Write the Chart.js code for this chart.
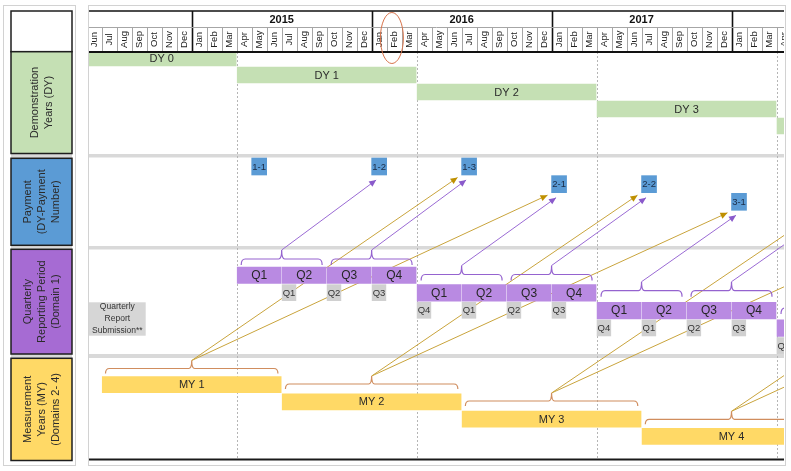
<!DOCTYPE html>
<html lang="en">
<head>
<meta charset="utf-8">
<title>DY / payment / reporting timeline</title>
<script src="https://cdn.jsdelivr.net/npm/chart.js@4.4.1/dist/chart.umd.min.js"></script>
<style>
  html, body { margin: 0; padding: 0; background: #ffffff; }
  canvas { display: block; }
</style>
</head>
<body>
<canvas id="timelineChart" width="791" height="471"></canvas>
<script>
// x values are months counted from Jan 2015 (0 = start of Jan 2015)
const monthNames = ["Jan", "Feb", "Mar", "Apr", "May", "Jun", "Jul", "Aug", "Sep", "Oct", "Nov", "Dec"];
const yearLabels = [2015, 2016, 2017];
const axisStart = -6.85;   // part of Jun 2014
const axisEnd = 39.5;      // part of Apr 2018
const highlightMonth = 13.35; // circled Feb 2016

const dyLabels = ["DY 0", "DY 1", "DY 2", "DY 3", "DY 4"];
const dyStart = [-7, 3, 15, 27, 39];
const dyEnd = [3, 15, 27, 39, 51];

const quarterLabels = ["Q1", "Q2", "Q3", "Q4"];
const reportLabels = ["Q4", "Q1", "Q2", "Q3"]; // report handed in during each quarter

const paymentLabels = ["1-1", "1-2", "1-3", "2-1", "2-2", "3-1", "3-2", "4-1", "4-2", "5-1"];
const paymentMonth = [4.5, 12.5, 18.5, 24.5, 30.5, 36.5, 42.5, 48.5, 54.5, 60.5];

const myLabels = ["MY 1", "MY 2", "MY 3", "MY 4"];
const myStart = [-6, 6, 18, 30];
const myEnd = [6, 18, 30, 42];

// payment fed by each half year of quarters (DY1 H1, DY1 H2, DY2 H1, ...)
const halfYearPays = ["1-2", "1-3", "2-1", "2-2", "3-1", "3-2", "4-1", "4-2"];
// payments fed by each measurement year
const myPays = [["1-3", "2-1"], ["2-2", "3-1"], ["3-2", "4-1"], ["4-2", "5-1"]];

const rowTitles = [
  [],
  ["Demonstration", "Years (DY)"],
  ["Payment", "(DY-Payment", "Number)"],
  ["Quarterly", "Reporting Period", "(Domain 1)"],
  ["Measurement", "Years (MY)", "(Domains 2- 4)"]
];
const noteLines = ["Quarterly", "Report", "Submission**"];

// ---- layout (pixels, y axis is 1:1 with the canvas) ----
const FONT = '"Liberation Sans", Arial, sans-serif';
const LAYOUT = {
  headTop: 11, monthTop: 27, headBottom: 52,
  dyTop: 50, dyStep: 17, dyH: 16,
  payTop: 158, payStep: 17.65, payH: 17,
  qTop: 267, qStep: 17.65, qH: 16.5, repH: 16,
  qBraceY: [259, 274.5, 290.7, 308],
  myTop: 376.7, myStep: 17.2, myH: 16,
  myBraceY: [368.5, 384, 401, 419.3],
  bands: [[154, 157.5], [246, 249.5], [354, 358]],
  bottomLine: 459.6,
  frameTop: 5.5, frameBottom: 465.5,
  panelX0: 11, panelX1: 72,
  note: { x0: 89, x1: 145.7, y0: 302.3, y1: 335.7 }
};
const panelBoxes = [
  { y0: 11, y1: 51.7, fill: "#ffffff" },
  { y0: 51.7, y1: 153.5, fill: "#c5e0b4" },
  { y0: 158.3, y1: 245.3, fill: "#5b9bd5" },
  { y0: 249.3, y1: 354, fill: "#a66bd3" },
  { y0: 358.3, y1: 460.5, fill: "#ffd966" }
];
const GAP = 0.035;

// ---- bars ----
const dyData = dyLabels.map((_, i) => ({
  x: [dyStart[i] + GAP, dyEnd[i] - GAP],
  y: LAYOUT.dyTop + i * LAYOUT.dyStep + LAYOUT.dyH / 2
}));

const qData = [], qText = [], repData = [], repText = [];
for (let k = 1; k < dyLabels.length; k++) {
  const row = k - 1;
  quarterLabels.forEach((lab, q) => {
    const s = dyStart[k] + 3 * q;
    qData.push({ x: [s + GAP, s + 3 - GAP], y: LAYOUT.qTop + row * LAYOUT.qStep + LAYOUT.qH / 2 });
    qText.push(lab);
    if (k === 1 && q === 0) return; // no earlier quarter to report
    repData.push({ x: [s + 0.03, s + 0.95], y: LAYOUT.qTop + (row + 1) * LAYOUT.qStep + LAYOUT.repH / 2 });
    repText.push(reportLabels[q]);
  });
}

function payRow(label) { return parseInt(label, 10) - 1; }
const payData = paymentLabels.map((lab, i) => ({
  x: [paymentMonth[i] - 0.5, paymentMonth[i] + 0.5],
  y: LAYOUT.payTop + payRow(lab) * LAYOUT.payStep + LAYOUT.payH / 2
}));

const myData = myLabels.map((_, i) => ({
  x: [myStart[i] + GAP, myEnd[i] - GAP],
  y: LAYOUT.myTop + i * LAYOUT.myStep + LAYOUT.myH / 2
}));

// ---- brackets and arrows ----
const qBraces = [];
for (let k = 1; k < dyLabels.length; k++) {
  for (let h = 0; h < 2; h++) {
    const s = dyStart[k] + 6 * h;
    qBraces.push({ x0: s + 0.3, x1: s + 5.7, y: LAYOUT.qBraceY[k - 1], tick: 9 });
  }
}
const myBraces = myLabels.map((_, i) => ({
  x0: myStart[i] + 0.25, x1: myEnd[i] - 0.25, y: LAYOUT.myBraceY[i], tick: 8
}));

function tip(b) { return { x: (b.x0 + b.x1) / 2, y: b.y - b.tick }; }
function payAnchor(label, kind) {
  const i = paymentLabels.indexOf(label);
  const left = paymentMonth[i] - 0.5;
  const bottom = LAYOUT.payTop + payRow(label) * LAYOUT.payStep + LAYOUT.payH;
  return kind === "gold"
    ? { x: left - 0.27, y: bottom + 2.5 }
    : { x: left + 0.3, y: bottom + 5 };
}

function arrowSet(from, to, color, head) {
  return {
    type: "line", data: [from, to], borderColor: color, borderWidth: 1,
    pointRadius: 0, fill: false, tension: 0, order: 5, arrowColor: head
  };
}
const arrowSets = [];
halfYearPays.forEach((lab, b) => {
  arrowSets.push(arrowSet(tip(qBraces[b]), payAnchor(lab, "purple"), "#9a6ad4", "#8a5acb"));
});
myPays.forEach((pair, m) => {
  pair.forEach(lab => arrowSets.push(arrowSet(tip(myBraces[m]), payAnchor(lab, "gold"), "#c9a43c", "#bf9000")));
});

function barSet(data, texts, color, thickness, font, textColor) {
  return {
    type: "bar", indexAxis: "y", data, backgroundColor: color, barThickness: thickness,
    grouped: false, borderWidth: 0, order: 1, barText: texts, textFont: font, textColor
  };
}

function drawBrace(ctx, x0, x1, y, tick, drop) {
  const xc = (x0 + x1) / 2, r = 4;
  ctx.beginPath();
  ctx.moveTo(x0, y + drop);
  ctx.quadraticCurveTo(x0, y, x0 + r, y);
  ctx.lineTo(xc - 3, y);
  ctx.quadraticCurveTo(xc, y, xc, y - tick);
  ctx.quadraticCurveTo(xc, y, xc + 3, y);
  ctx.lineTo(x1 - r, y);
  ctx.quadraticCurveTo(x1, y, x1, y + drop);
  ctx.stroke();
}

const gridPlugin = {
  id: "grid",
  beforeDatasetsDraw(chart) {
    const { ctx, chartArea: a, scales: { x } } = chart;
    ctx.save();
    ctx.strokeStyle = "#d2d2d2";
    ctx.lineWidth = 1;
    ctx.strokeRect(88.5, LAYOUT.frameTop, 697, LAYOUT.frameBottom - LAYOUT.frameTop);
    ctx.strokeRect(3.5, LAYOUT.frameTop, 72, LAYOUT.frameBottom - LAYOUT.frameTop);

    ctx.fillStyle = "#d9d9d9";
    LAYOUT.bands.forEach(([y0, y1]) => ctx.fillRect(a.left, y0, a.right - a.left, y1 - y0));

    // dotted lines where each DY begins
    ctx.strokeStyle = "#b5b5b5";
    ctx.setLineDash([2, 2]);
    dyStart.forEach(m => {
      if (m <= axisStart || m >= axisEnd) return;
      const px = Math.round(x.getPixelForValue(m)) + 0.5;
      ctx.beginPath();
      ctx.moveTo(px, LAYOUT.headBottom);
      ctx.lineTo(px, LAYOUT.bottomLine);
      ctx.stroke();
    });
    ctx.setLineDash([]);

    ctx.strokeStyle = "#1a1a1a";
    ctx.lineWidth = 2;
    ctx.beginPath();
    ctx.moveTo(a.left, LAYOUT.bottomLine);
    ctx.lineTo(a.right, LAYOUT.bottomLine);
    ctx.stroke();
    ctx.restore();
  }
};

const overlayPlugin = {
  id: "overlay",
  afterDatasetsDraw(chart) {
    const { ctx, chartArea: a, scales: { x, y } } = chart;
    ctx.save();
    ctx.beginPath();
    ctx.rect(a.left, a.top, a.right - a.left, a.bottom - a.top);
    ctx.clip();

    // text inside bars
    ctx.textAlign = "center";
    ctx.textBaseline = "middle";
    chart.data.datasets.forEach((ds, di) => {
      if (!ds.barText) return;
      ctx.font = ds.textFont;
      ctx.fillStyle = ds.textColor;
      chart.getDatasetMeta(di).data.forEach((el, i) => {
        ctx.fillText(ds.barText[i], (el.x + el.base) / 2, el.y + 0.5);
      });
    });

    // brackets
    ctx.lineWidth = 1.2;
    ctx.strokeStyle = "#9563cf";
    qBraces.forEach(b => drawBrace(ctx, x.getPixelForValue(b.x0), x.getPixelForValue(b.x1), y.getPixelForValue(b.y), b.tick, 6));
    ctx.strokeStyle = "#d08d5e";
    myBraces.forEach(b => drawBrace(ctx, x.getPixelForValue(b.x0), x.getPixelForValue(b.x1), y.getPixelForValue(b.y), b.tick, 5));

    // arrow heads
    chart.data.datasets.forEach((ds, di) => {
      if (!ds.arrowColor) return;
      const pts = chart.getDatasetMeta(di).data;
      const p0 = pts[0], p1 = pts[1];
      const ang = Math.atan2(p1.y - p0.y, p1.x - p0.x);
      ctx.save();
      ctx.translate(p1.x, p1.y);
      ctx.rotate(ang);
      ctx.fillStyle = ds.arrowColor;
      ctx.beginPath();
      ctx.moveTo(0, 0);
      ctx.lineTo(-7, -3.2);
      ctx.lineTo(-7, 3.2);
      ctx.closePath();
      ctx.fill();
      ctx.restore();
    });
    ctx.restore();

    // note box
    const n = LAYOUT.note;
    ctx.save();
    ctx.fillStyle = "#d6d6d6";
    ctx.fillRect(n.x0, n.y0, n.x1 - n.x0, n.y1 - n.y0);
    ctx.fillStyle = "#333";
    ctx.font = "8.5px " + FONT;
    ctx.textAlign = "center";
    ctx.textBaseline = "middle";
    noteLines.forEach((t, j) => ctx.fillText(t, (n.x0 + n.x1) / 2, (n.y0 + n.y1) / 2 + (j - 1) * 12));
    ctx.restore();

    // header: years and months
    ctx.save();
    ctx.beginPath();
    ctx.rect(a.left, 0, a.right - a.left, LAYOUT.headBottom + 2);
    ctx.clip();
    ctx.fillStyle = "#ffffff";
    ctx.fillRect(a.left, LAYOUT.headTop, a.right - a.left, LAYOUT.headBottom - LAYOUT.headTop);
    ctx.textAlign = "center";
    ctx.textBaseline = "middle";
    ctx.font = "9.5px " + FONT;
    for (let m = Math.floor(axisStart); m < axisEnd; m++) {
      const x0 = x.getPixelForValue(m), x1 = x.getPixelForValue(m + 1);
      const xs = Math.round(x0) + 0.5;
      ctx.strokeStyle = "#a6a6a6";
      ctx.lineWidth = 1;
      ctx.beginPath();
      ctx.moveTo(xs, LAYOUT.monthTop);
      ctx.lineTo(xs, LAYOUT.headBottom);
      ctx.stroke();
      ctx.save();
      ctx.translate((x0 + x1) / 2, (LAYOUT.monthTop + LAYOUT.headBottom) / 2);
      ctx.rotate(-Math.PI / 2);
      ctx.fillStyle = "#222";
      ctx.fillText(monthNames[((m % 12) + 12) % 12], 0, 0.5);
      ctx.restore();
      if (((m % 12) + 12) % 12 === 0) {
        ctx.strokeStyle = "#111";
        ctx.lineWidth = 1.6;
        ctx.beginPath();
        ctx.moveTo(xs, LAYOUT.headTop);
        ctx.lineTo(xs, LAYOUT.headBottom);
        ctx.stroke();
      }
    }
    ctx.strokeStyle = "#a6a6a6";
    ctx.lineWidth = 1;
    ctx.beginPath();
    ctx.moveTo(a.left, LAYOUT.monthTop + 0.5);
    ctx.lineTo(a.right, LAYOUT.monthTop + 0.5);
    ctx.stroke();
    ctx.strokeStyle = "#111";
    ctx.lineWidth = 1.6;
    ctx.beginPath();
    ctx.moveTo(a.left, LAYOUT.headTop);
    ctx.lineTo(a.right, LAYOUT.headTop);
    ctx.stroke();
    ctx.lineWidth = 2;
    ctx.beginPath();
    ctx.moveTo(a.left, LAYOUT.headBottom);
    ctx.lineTo(a.right, LAYOUT.headBottom);
    ctx.stroke();
    ctx.font = "bold 11px " + FONT;
    ctx.fillStyle = "#111";
    yearLabels.forEach(yr => {
      ctx.fillText(String(yr), x.getPixelForValue(12 * (yr - 2015) + 6), (LAYOUT.headTop + LAYOUT.monthTop) / 2 + 0.5);
    });
    ctx.restore();

    // circled month
    ctx.save();
    ctx.strokeStyle = "#d7734b";
    ctx.lineWidth = 1;
    ctx.beginPath();
    ctx.ellipse(x.getPixelForValue(highlightMonth), 38, 11.5, 25.5, 0, 0, Math.PI * 2);
    ctx.stroke();
    ctx.restore();
  }
};

const panelPlugin = {
  id: "panel",
  afterDraw(chart) {
    const { ctx } = chart;
    const x0 = LAYOUT.panelX0, x1 = LAYOUT.panelX1;
    ctx.save();
    ctx.fillStyle = "#d9d9d9";
    ctx.fillRect(x0, panelBoxes[0].y0, x1 - x0, panelBoxes[panelBoxes.length - 1].y1 - panelBoxes[0].y0);
    panelBoxes.forEach((b, i) => {
      ctx.fillStyle = b.fill;
      ctx.fillRect(x0, b.y0, x1 - x0, b.y1 - b.y0);
      ctx.strokeStyle = "#1e1e1e";
      ctx.lineWidth = 1.5;
      ctx.strokeRect(x0, b.y0, x1 - x0, b.y1 - b.y0);
      const lines = rowTitles[i];
      ctx.save();
      ctx.translate((x0 + x1) / 2, (b.y0 + b.y1) / 2);
      ctx.rotate(-Math.PI / 2);
      ctx.font = "11px " + FONT;
      ctx.fillStyle = "#2b2b2b";
      ctx.textAlign = "center";
      ctx.textBaseline = "middle";
      lines.forEach((t, j) => ctx.fillText(t, 0, (j - (lines.length - 1) / 2) * 14));
      ctx.restore();
    });
    ctx.restore();
  }
};

new Chart(document.getElementById("timelineChart"), {
  type: "bar",
  data: {
    datasets: [
      ...arrowSets,
      barSet(dyData, dyLabels, "#c5e0b4", LAYOUT.dyH, "11px " + FONT, "#2b2b2b"),
      barSet(payData, paymentLabels, "#5b9bd5", LAYOUT.payH, "9.5px " + FONT, "#1b2b45"),
      barSet(qData, qText, "#b98ae2", LAYOUT.qH, "12px " + FONT, "#262626"),
      barSet(repData, repText, "#d0d0d0", LAYOUT.repH, "9.5px " + FONT, "#333333"),
      barSet(myData, myLabels, "#ffd966", LAYOUT.myH, "11px " + FONT, "#2b2b2b")
    ]
  },
  options: {
    responsive: false,
    animation: false,
    events: [],
    layout: { padding: { left: 89, right: 7, top: 0, bottom: 0 } },
    scales: {
      x: { type: "linear", min: axisStart, max: axisEnd, bounds: "data", offset: false, display: false },
      y: { type: "linear", min: 0, max: 471, reverse: true, bounds: "data", offset: false, display: false }
    },
    plugins: { legend: { display: false }, tooltip: { enabled: false }, title: { display: false } }
  },
  plugins: [gridPlugin, overlayPlugin, panelPlugin]
});
</script>
</body>
</html>
